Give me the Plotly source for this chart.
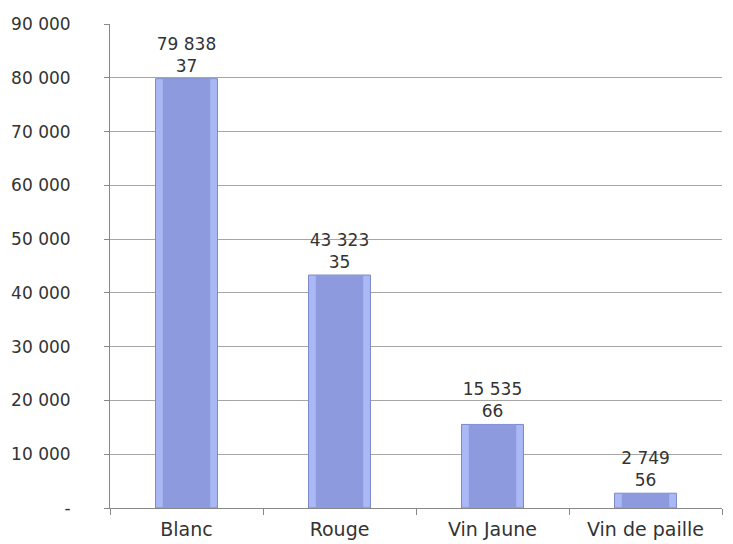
import plotly.graph_objects as go

categories = ["Blanc", "Rouge", "Vin Jaune", "Vin de paille"]
values = [79838.37, 43323.35, 15535.66, 2749.56]
label_main = ["79 838", "43 323", "15 535", "2 749"]
label_dec = ["37", "35", "66", "56"]
tick_vals = [0, 10000, 20000, 30000, 40000, 50000, 60000, 70000, 80000, 90000]
tick_text = ["-", "10 000", "20 000", "30 000", "40 000", "50 000", "60 000", "70 000", "80 000", "90 000"]

font_family = "DejaVu Sans, Lato, sans-serif"
texts = [f"{a}<br>{b}" for a, b in zip(label_main, label_dec)]

fig = go.Figure()
# outer bevel bar
fig.add_trace(go.Bar(
    x=categories, y=values, width=0.405,
    marker=dict(color="#aab8f5", line=dict(color="#7c89c8", width=1)),
    text=texts, textposition="outside", cliponaxis=False,
    textfont=dict(family=font_family, size=17, color="#333333"),
    hoverinfo="skip",
))
# inner face
fig.add_trace(go.Bar(
    x=categories, y=values, width=0.31,
    marker=dict(color="#8d9ade", line=dict(width=0)),
    hoverinfo="skip",
))

fig.update_layout(
    width=717, height=536,
    barmode="overlay",
    showlegend=False,
    plot_bgcolor="white", paper_bgcolor="white",
    margin=dict(l=102, r=3, t=16, b=36),
    font=dict(family=font_family, size=17, color="#333333"),
)
fig.update_xaxes(
    showgrid=False, showline=True, linecolor="#888888", linewidth=1,
    ticks="outside", tickson="boundaries", ticklen=6, tickcolor="#888888",
    ticklabelstandoff=4, automargin=False,
    tickfont=dict(family=font_family, size=19, color="#333333"),
)
fig.update_yaxes(
    range=[0, 90000], tickvals=tick_vals, ticktext=tick_text,
    showgrid=True, gridcolor="#a6a6a6", gridwidth=1,
    showline=True, linecolor="#888888", linewidth=1,
    ticks="outside", ticklen=5, tickcolor="#888888",
    ticklabelstandoff=30, automargin=False,
    tickfont=dict(family=font_family, size=17, color="#333333"),
    zeroline=False,
)
fig.write_html("out.html")
